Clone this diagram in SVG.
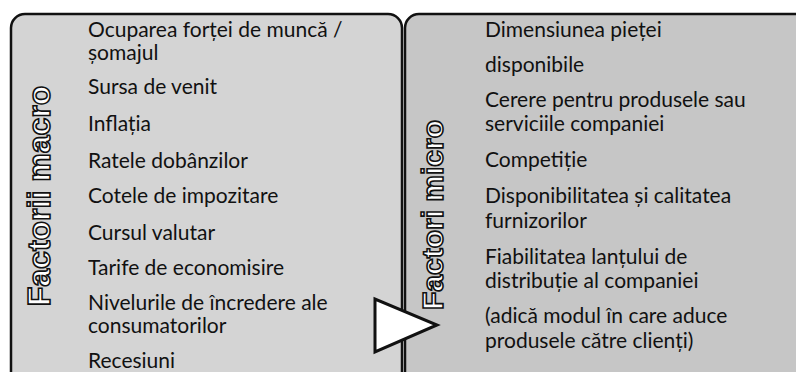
<svg xmlns="http://www.w3.org/2000/svg" width="796" height="372" viewBox="0 0 796 372">
<style>
.box{stroke:#111;stroke-width:2.5}
.t{font-family:Lato,"Liberation Sans",sans-serif;font-size:21px;fill:#111}
.v{font-family:"Liberation Sans",Arial,sans-serif;font-weight:bold;fill:#fff;stroke:#111;stroke-width:1.6;text-anchor:middle}
</style>
<rect width="796" height="372" fill="#fff"/>
<g id="macro">
<rect class="box" x="11" y="14" width="391" height="380" rx="14" fill="#d4d4d4"/>
<text class="v" font-size="32" transform="translate(50,196) rotate(-90)">Factorii macro</text>
<text class="t" x="88" y="37">Ocuparea forței de muncă /</text>
<text class="t" x="88" y="60">șomajul</text>
<text class="t" x="88" y="94">Sursa de venit</text>
<text class="t" x="88" y="131">Inflația</text>
<text class="t" x="88" y="168">Ratele dobânzilor</text>
<text class="t" x="88" y="203">Cotele de impozitare</text>
<text class="t" x="88" y="240">Cursul valutar</text>
<text class="t" x="88" y="275">Tarife de economisire</text>
<text class="t" x="88" y="310">Nivelurile de încredere ale</text>
<text class="t" x="88" y="333">consumatorilor</text>
<text class="t" x="88" y="368">Recesiuni</text>
</g>
<g id="micro">
<rect class="box" x="405" y="14" width="420" height="380" rx="14" fill="#c6c6c6"/>
<text class="v" font-size="30" transform="translate(443,215) rotate(-90)">Factori micro</text>
<text class="t" x="485" y="37">Dimensiunea pieței</text>
<text class="t" x="485" y="72">disponibile</text>
<text class="t" x="485" y="107">Cerere pentru produsele sau</text>
<text class="t" x="485" y="131">serviciile companiei</text>
<text class="t" x="485" y="167">Competiție</text>
<text class="t" x="485" y="203">Disponibilitatea și calitatea</text>
<text class="t" x="485" y="228">furnizorilor</text>
<text class="t" x="485" y="264">Fiabilitatea lanțului de</text>
<text class="t" x="485" y="288">distribuție al companiei</text>
<text class="t" x="485" y="323">(adică modul în care aduce</text>
<text class="t" x="485" y="348">produsele către clienți)</text>
</g>
<g id="connectors">
<polygon points="375,299 375,352 437,325" fill="#fff" stroke="#111" stroke-width="3" stroke-linejoin="miter"/>
</g>
</svg>
